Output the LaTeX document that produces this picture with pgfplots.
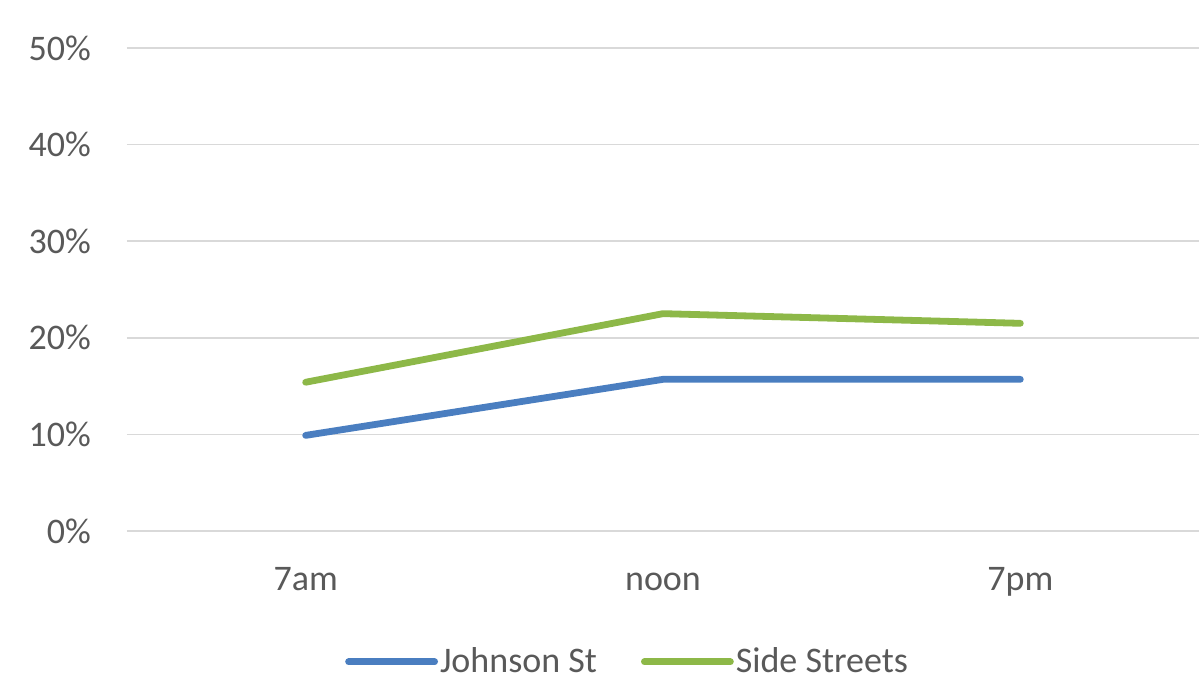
\documentclass[border=0pt]{standalone}
\usepackage{pgfplots}
\pgfplotsset{compat=1.18}
\usepackage{fontspec}
\setmainfont{Carlito}
\definecolor{jblue}{HTML}{4A7EC0}
\definecolor{sgreen}{HTML}{8DB848}
\definecolor{txtgray}{HTML}{595959}
\definecolor{gridgray}{HTML}{D9D9D9}
\begin{document}
\begin{tikzpicture}
\useasboundingbox (-63.5pt,-77pt) rectangle (536pt,265.5pt);
\begin{axis}[
  at={(0,0)}, anchor=south west,
  scale only axis,
  width=536pt, height=241.5pt,
  xmin=-0.5, xmax=2.5,
  ymin=0, ymax=50,
  xtick={0,1,2},
  xticklabels={7am,noon,7pm},
  ytick={0,10,20,30,40,50},
  yticklabels={0\%,10\%,20\%,30\%,40\%,50\%},
  axis line style={draw=none},
  major tick length=0pt,
  ymajorgrids,
  grid style={gridgray, line width=0.8pt},
  tick label style={font=\fontsize{18}{22}\selectfont, text=txtgray},
  xticklabel style={yshift=-14pt, text height=12pt, text depth=4pt},
  yticklabel style={xshift=-14.5pt},
  clip=false,
  legend style={at={(0.467,-0.271)}, anchor=center, draw=none, fill=none,
    font=\fontsize{18}{22}\selectfont, text=txtgray,
    /tikz/every even column/.append style={column sep=21pt},
    inner sep=0pt},
  legend columns=2,
  legend cell align=left,
  legend image code/.code={\draw[#1] (0pt,0pt) -- (43pt,0pt);},
  legend style={nodes={inner xsep=1pt}},
]
\addplot[jblue, line width=3.4pt, line join=round, line cap=round] coordinates {(0,9.9) (1,15.7) (2,15.7)};
\addlegendentry{Johnson St}
\addplot[sgreen, line width=3.4pt, line join=round, line cap=round] coordinates {(0,15.4) (1,22.5) (2,21.5)};
\addlegendentry{Side Streets}
% ground line
\draw[gridgray, line width=0.8pt] (rel axis cs:0,0) -- (rel axis cs:1,0);
\end{axis}
\end{tikzpicture}
\end{document}
